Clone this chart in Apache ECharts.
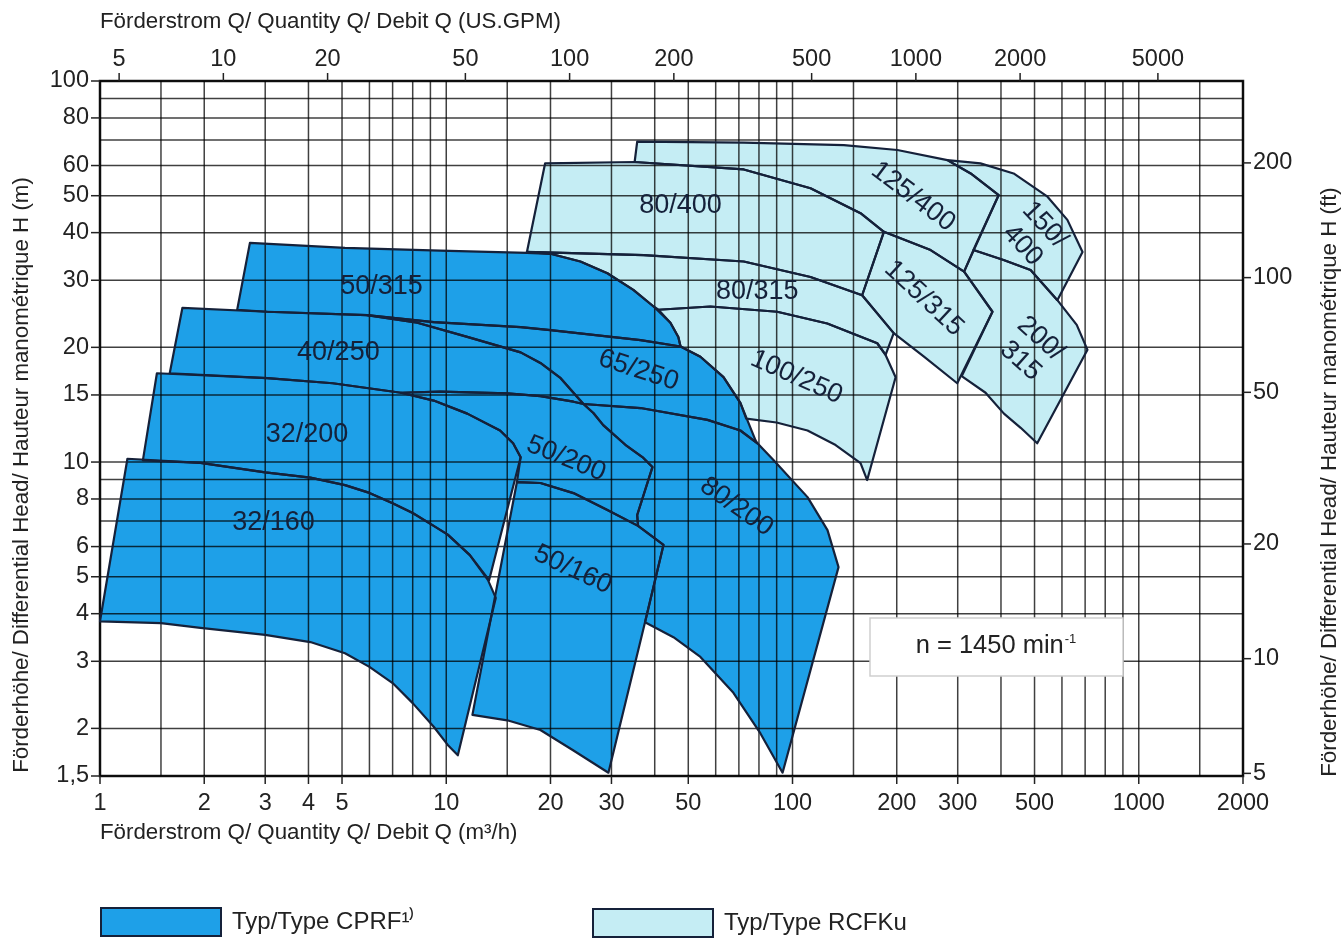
<!DOCTYPE html>
<html>
<head>
<meta charset="utf-8">
<script src="https://cdn.jsdelivr.net/npm/echarts@6/dist/echarts.min.js"></script>
<style>
  html, body { margin: 0; padding: 0; background: #ffffff; }
  #chart { width: 1344px; height: 938px; }
</style>
</head>
<body>
<div id="chart"></div>
<script>
// ---------- axes (Q in m³/h, H in m) ----------
const qGrid = [1, 1.5, 2, 3, 4, 5, 6, 7, 8, 9, 10, 15, 20, 30, 40, 50, 60, 70, 80, 90,
  100, 150, 200, 300, 400, 500, 600, 700, 800, 900, 1000, 1500, 2000];
const hGrid = [1.5, 2, 3, 4, 5, 6, 7, 8, 9, 10, 15, 20, 30, 40, 50, 60, 70, 80, 90, 100];
const qTicks = [1, 2, 3, 4, 5, 10, 20, 30, 50, 100, 200, 300, 500, 1000, 2000];
const hTicks = [1.5, 2, 3, 4, 5, 6, 8, 10, 15, 20, 30, 40, 50, 60, 80, 100];
const gpmTicks = [5, 10, 20, 50, 100, 200, 500, 1000, 2000, 5000];
const ftTicks = [5, 10, 20, 50, 100, 200];
const M3H_PER_GPM = 0.2271247;
const M_PER_FT = 0.3048;

// ---------- CPRF operating ranges [Q m³/h, H m] ----------
const cprf_50_315 = [[2.71,37.6],[5.1,36.5],[9.6,35.9],[17.1,35.4],[20,35.2],[24.4,33.6],[29.2,31.3],[34.7,28.3],[39.7,25.6],[44.4,23.2],[46.8,21.3],[47.5,20.1],[36.4,20.9],[20,22.2],[16.4,22.6],[9.2,23.3],[5.9,24.3],[3.04,24.8],[2.49,25.1]];
const cprf_40_250 = [[1.59,17.1],[1.73,25.4],[3.04,24.8],[5.9,24.3],[8.25,23.2],[11.5,21.3],[16.4,19.4],[18.7,18.2],[21.4,16.6],[24.9,14.2],[23.3,14.4],[18.7,14.9],[15,15.15],[9.6,15.3],[7.4,15.2],[4.7,16.1],[3.04,16.6]];
const cprf_65_250 = [[5.9,24.3],[9.2,23.3],[16.4,22.6],[20,22.2],[36.4,20.9],[47.5,20.1],[54.2,18.9],[63.2,16.7],[70.7,14.3],[78.2,11.4],[79.2,11.2],[70.7,12.1],[56.8,12.9],[36.4,13.86],[24.9,14.2],[21.4,16.6],[18.7,18.2],[16.4,19.4],[11.5,21.3],[8.25,23.2]];
const cprf_32_200 = [[1.33,10.1],[1.46,17.1],[3.04,16.6],[4.7,16.1],[7.4,15.2],[9.2,14.5],[11.5,13.4],[14.3,12.1],[15.6,11.2],[16.4,10.3],[13.3,4.9],[11.7,5.7],[10.1,6.45],[9.2,6.8],[8,7.35],[7,7.8],[6,8.3],[5.1,8.7],[4.05,9.1],[3,9.4],[1.95,9.95]];
const cprf_50_200 = [[7.4,15.2],[9.6,15.3],[15,15.15],[18.7,14.9],[23.3,14.4],[24.9,14.2],[26.6,13.45],[28.4,12.5],[32.9,11.1],[37.1,10.25],[39.4,9.7],[35.6,7.26],[35.8,6.8],[29.2,7.48],[23.3,8.29],[18.7,8.81],[16,8.86],[16.4,10.3],[15.6,11.2],[14.3,12.1],[11.5,13.4],[9.2,14.5]];
const cprf_50_160 = [[16,8.86],[18.7,8.81],[23.3,8.29],[29.2,7.48],[35.8,6.8],[42.4,6.06],[37.5,3.8],[29.4,1.53],[23.3,1.75],[18.7,1.98],[15,2.1],[11.9,2.17]];
const cprf_80_200 = [[24.9,14.2],[36.4,13.86],[56.8,12.9],[70.7,12.1],[79.2,11.2],[88.1,10.12],[110.5,8.09],[126.2,6.63],[135.8,5.3],[93.6,1.53],[80.8,1.94],[67.5,2.48],[54.2,3.08],[45.3,3.47],[37.5,3.8],[42.4,6.06],[35.8,6.8],[35.6,7.26],[39.4,9.7],[37.1,10.25],[32.9,11.1],[28.4,12.5],[26.6,13.45]];
const cprf_32_160 = [[1,3.82],[1.2,10.2],[1.95,9.95],[3,9.4],[4.05,9.1],[5.1,8.7],[6,8.3],[7,7.8],[8,7.35],[9.2,6.8],[10.1,6.45],[11.7,5.7],[13.2,4.9],[13.9,4.4],[10.8,1.7],[10.1,1.81],[9.2,2.02],[8,2.33],[7,2.63],[6,2.9],[5.1,3.15],[4.05,3.37],[3,3.52],[1.95,3.67],[1.5,3.78]];

// ---------- RCFKu operating ranges [Q m³/h, H m] ----------
const rcfku_80_400 = [[19.3,60.8],[35.0,61.3],[72.3,58.6],[112.7,52.3],[157.2,45.0],[183.6,40.2],[158.9,27.4],[112.7,30.6],[72.3,33.6],[37.2,34.9],[17.1,35.6]];
const rcfku_125_400 = [[35.6,69.3],[72.3,68.9],[140.7,67.9],[200.8,65.9],[280,62],[327,57.2],[394,50.2],[313,31.6],[250.5,36.0],[183.6,40.2],[157.2,45.0],[112.7,52.3],[72.3,58.6],[35.0,61.3]];
const rcfku_150_400 = [[280,62],[349,60.8],[435,57.2],[545,49.7],[622,43.2],[688,35.6],[582,26.6],[487,31.9],[407,33.9],[333,36.0],[394,50.2],[327,57.2]];
const rcfku_80_315 = [[17.1,35.6],[37.2,34.9],[72.3,33.6],[112.7,30.6],[158.9,27.4],[196,21.8],[185.7,19.1],[175.7,20.5],[126,23.1],[90.3,24.8],[57.9,25.6],[41,25.1],[39.7,25.6],[34.7,28.3],[29.2,31.3],[24.4,33.6],[20,35.2]];
const rcfku_125_315 = [[183.6,40.2],[250.5,36.0],[313,31.6],[378,24.8],[299,16.1],[239.7,18.9],[196,21.8],[158.9,27.4]];
const rcfku_100_250 = [[41,25.1],[57.9,25.6],[90.3,24.8],[126,23.1],[175.7,20.5],[185.7,19.1],[198.5,16.7],[164.3,8.97],[157.2,9.94],[133.2,11.08],[110.5,12.1],[89.9,12.7],[73.5,13.0],[70.7,14.3],[63.2,16.7],[54.2,18.9],[47.5,20.1],[46.8,21.3],[44.4,23.2]];
const rcfku_200_315 = [[333,36.0],[407,33.9],[487,31.9],[582,26.6],[662,22.9],[711,19.7],[509,11.2],[456,12.3],[408,13.4],[361,15.2],[308,16.8],[378,24.8],[313,31.6]];

const cprfTypes = ['50/315', '40/250', '65/250', '32/200', '50/200', '50/160', '80/200', '32/160'];
const cprfRanges = [cprf_50_315, cprf_40_250, cprf_65_250, cprf_32_200, cprf_50_200, cprf_50_160, cprf_80_200, cprf_32_160];
const rcfkuTypes = ['80/400', '125/400', '150/\n400', '80/315', '125/315', '100/250', '200/\n315'];
const rcfkuRanges = [rcfku_80_400, rcfku_125_400, rcfku_150_400, rcfku_80_315, rcfku_125_315, rcfku_100_250, rcfku_200_315];

// where each type name sits [Q, H] and its tilt in degrees
const cprfLabelAt = [[6.5,28.9],[4.88,19.4],[35.9,17.4],[3.96,11.8],[22.2,10.2],[23.2,5.22],[68.9,7.63],[3.17,6.93]];
const cprfLabelTilt = [0, 0, -18, 0, -22, -25, -35, 0];
const rcfkuLabelAt = [[47.5,47.0],[223,49.7],[497,39.4],[79.1,28.0],[239.7,26.9],[102.7,16.7],[487,19.7]];
const rcfkuLabelTilt = [0, -37, -47, 0, -43, -24, -42];

// ---------- styling ----------
const FONT = '"Liberation Sans", Arial, Helvetica, sans-serif';
const BLUE = '#1ea0e8';
const CYAN = '#c5edf4';
const INK = '#15213a';
const TXT = '#222222';
const GRID = 'rgba(0,0,0,0.75)';
const TICK_FS = 23.5;
const CPRF_NAME = 'Typ/Type CPRF¹⁾';
const RCFKU_NAME = 'Typ/Type RCFKu';

function fillSeries(name, ranges, color, z) {
  return {
    type: 'custom', name: name, coordinateSystem: 'cartesian2d', silent: true, clip: false, z: z,
    itemStyle: { color: color },
    data: ranges.map(r => [r[0][0], r[0][1]]),
    renderItem: (params, api) => ({
      type: 'polygon',
      shape: { points: ranges[params.dataIndex].map(p => api.coord(p)) },
      style: { fill: color, stroke: null }
    })
  };
}

function outlineSeries(ranges, z) {
  return {
    type: 'custom', coordinateSystem: 'cartesian2d', silent: true, clip: false, z: z,
    data: ranges.map(r => [r[0][0], r[0][1]]),
    renderItem: (params, api) => ({
      type: 'polygon',
      shape: { points: ranges[params.dataIndex].map(p => api.coord(p)) },
      style: { fill: null, stroke: INK, lineWidth: 2.2, lineJoin: 'round' }
    })
  };
}

function nameSeries(names, anchors, tilts, z) {
  return {
    type: 'custom', coordinateSystem: 'cartesian2d', silent: true, clip: false, z: z,
    data: anchors.map(a => [a[0], a[1]]),
    renderItem: (params, api) => {
      const i = params.dataIndex;
      const c = api.coord(anchors[i]);
      return {
        type: 'text', x: c[0], y: c[1], rotation: tilts[i] * Math.PI / 180,
        style: {
          text: names[i], fontSize: 27, fontFamily: FONT, fill: INK,
          align: 'center', verticalAlign: 'middle', lineHeight: 30
        }
      };
    }
  };
}

const gridLinesSeries = [
  {
    type: 'custom', coordinateSystem: 'cartesian2d', silent: true, clip: false, z: 3,
    data: qGrid.map(q => [q, 1.5]),
    renderItem: (params, api) => {
      const q = qGrid[params.dataIndex];
      const a = api.coord([q, 1.5]), b = api.coord([q, 100]);
      return { type: 'line', shape: { x1: a[0], y1: a[1], x2: b[0], y2: b[1] }, style: { stroke: GRID, lineWidth: 1.5 } };
    }
  },
  {
    type: 'custom', coordinateSystem: 'cartesian2d', silent: true, clip: false, z: 3,
    data: hGrid.map(h => [1, h]),
    renderItem: (params, api) => {
      const h = hGrid[params.dataIndex];
      const a = api.coord([1, h]), b = api.coord([2000, h]);
      return { type: 'line', shape: { x1: a[0], y1: a[1], x2: b[0], y2: b[1] }, style: { stroke: GRID, lineWidth: 1.5 } };
    }
  }
];

function tickText(text, x, y, align) {
  return { type: 'text', x: x, y: y, style: { text: text, fontSize: TICK_FS, fontFamily: FONT, fill: TXT, align: align, verticalAlign: 'middle' } };
}
function tickLine(x1, y1, x2, y2) {
  return { type: 'line', shape: { x1: x1, y1: y1, x2: x2, y2: y2 }, style: { stroke: '#222', lineWidth: 1.5 } };
}

const tickSeries = [
  { // bottom: m³/h
    type: 'custom', coordinateSystem: 'cartesian2d', silent: true, clip: false, z: 6,
    data: qTicks.map(q => [q, 1.5]),
    renderItem: (params, api) => {
      const q = qTicks[params.dataIndex];
      const c = api.coord([q, 1.5]);
      return { type: 'group', children: [tickLine(c[0], c[1], c[0], c[1] + 8), tickText(String(q), c[0], c[1] + 28, 'center')] };
    }
  },
  { // left: m
    type: 'custom', coordinateSystem: 'cartesian2d', silent: true, clip: false, z: 6,
    data: hTicks.map(h => [1, h]),
    renderItem: (params, api) => {
      const h = hTicks[params.dataIndex];
      const c = api.coord([1, h]);
      return { type: 'group', children: [tickLine(c[0] - 9, c[1], c[0], c[1]), tickText(String(h).replace('.', ','), c[0] - 11, c[1], 'right')] };
    }
  },
  { // top: US GPM
    type: 'custom', coordinateSystem: 'cartesian2d', silent: true, clip: false, z: 6,
    data: gpmTicks.map(g => [g * M3H_PER_GPM, 100]),
    renderItem: (params, api) => {
      const g = gpmTicks[params.dataIndex];
      const c = api.coord([g * M3H_PER_GPM, 100]);
      return { type: 'group', children: [tickLine(c[0], c[1], c[0], c[1] - 8), tickText(String(g), c[0], c[1] - 21, 'center')] };
    }
  },
  { // right: ft
    type: 'custom', coordinateSystem: 'cartesian2d', silent: true, clip: false, z: 6,
    data: ftTicks.map(f => [2000, f * M_PER_FT]),
    renderItem: (params, api) => {
      const f = ftTicks[params.dataIndex];
      const c = api.coord([2000, f * M_PER_FT]);
      return { type: 'group', children: [tickLine(c[0], c[1], c[0] + 8, c[1]), tickText(String(f), c[0] + 10, c[1], 'left')] };
    }
  }
];

const chart = echarts.init(document.getElementById('chart'), null, { renderer: 'canvas' });

const legendBase = {
  orient: 'horizontal', padding: 0, itemGap: 0, icon: 'rect', itemWidth: 120, itemHeight: 28,
  selectedMode: false,
  itemStyle: { borderColor: INK, borderWidth: 2 },
  textStyle: { fontSize: 24, fontFamily: FONT, color: TXT, padding: [0, 0, 0, 6] }
};

chart.setOption({
  animation: false,
  backgroundColor: '#ffffff',
  grid: { left: 100, top: 81, width: 1143, height: 695, show: true, borderColor: '#1e1e1e', borderWidth: 2.5, backgroundColor: 'transparent', containLabel: false },
  xAxis: {
    type: 'log', logBase: 10, min: 1, max: 2000,
    axisLine: { show: false }, axisTick: { show: false }, axisLabel: { show: false }, splitLine: { show: false }
  },
  yAxis: {
    type: 'log', logBase: 10, min: 1.5, max: 100,
    axisLine: { show: false }, axisTick: { show: false }, axisLabel: { show: false }, splitLine: { show: false }
  },
  legend: [
    Object.assign({}, legendBase, { data: [CPRF_NAME], left: 100, top: 907 }),
    Object.assign({}, legendBase, { data: [RCFKU_NAME], left: 592, top: 908 })
  ],
  graphic: [
    { type: 'text', x: 100, y: 22, z: 10, style: { text: 'Förderstrom Q/ Quantity Q/ Debit Q (US.GPM)', fontSize: 22.3, fontFamily: FONT, fill: TXT, verticalAlign: 'middle' } },
    { type: 'text', x: 100, y: 833, z: 10, style: { text: 'Förderstrom Q/ Quantity Q/ Debit Q (m³/h)', fontSize: 22.3, fontFamily: FONT, fill: TXT, verticalAlign: 'middle' } },
    { type: 'text', x: 22, y: 475, rotation: Math.PI / 2, z: 10, style: { text: 'Förderhöhe/ Differential Head/ Hauteur manométrique H (m)', fontSize: 22.3, fontFamily: FONT, fill: TXT, align: 'center', verticalAlign: 'middle' } },
    { type: 'text', x: 1330, y: 482, rotation: Math.PI / 2, z: 10, style: { text: 'Förderhöhe/ Differential Head/ Hauteur manométrique H (ft)', fontSize: 22.3, fontFamily: FONT, fill: TXT, align: 'center', verticalAlign: 'middle' } },
    { type: 'rect', x: 870, y: 618, z: 20, shape: { width: 253, height: 58 }, style: { fill: '#ffffff', stroke: '#cfcfcf', lineWidth: 1.5 } },
    { type: 'text', x: 996, y: 646, z: 21, style: {
        text: 'n = 1450 min{sup|-1}', fontSize: 25.5, fontFamily: FONT, fill: TXT, align: 'center', verticalAlign: 'middle',
        rich: { sup: { fontSize: 13, fontFamily: FONT, fill: TXT, verticalAlign: 'top', padding: [0, 0, 0, 1] } }
      } }
  ],
  series: [
    fillSeries(RCFKU_NAME, rcfkuRanges, CYAN, 1),
    fillSeries(CPRF_NAME, cprfRanges, BLUE, 2),
    ...gridLinesSeries,
    outlineSeries(rcfkuRanges, 4),
    outlineSeries(cprfRanges, 4),
    nameSeries(cprfTypes, cprfLabelAt, cprfLabelTilt, 5),
    nameSeries(rcfkuTypes, rcfkuLabelAt, rcfkuLabelTilt, 5),
    ...tickSeries
  ]
});
</script>
</body>
</html>
